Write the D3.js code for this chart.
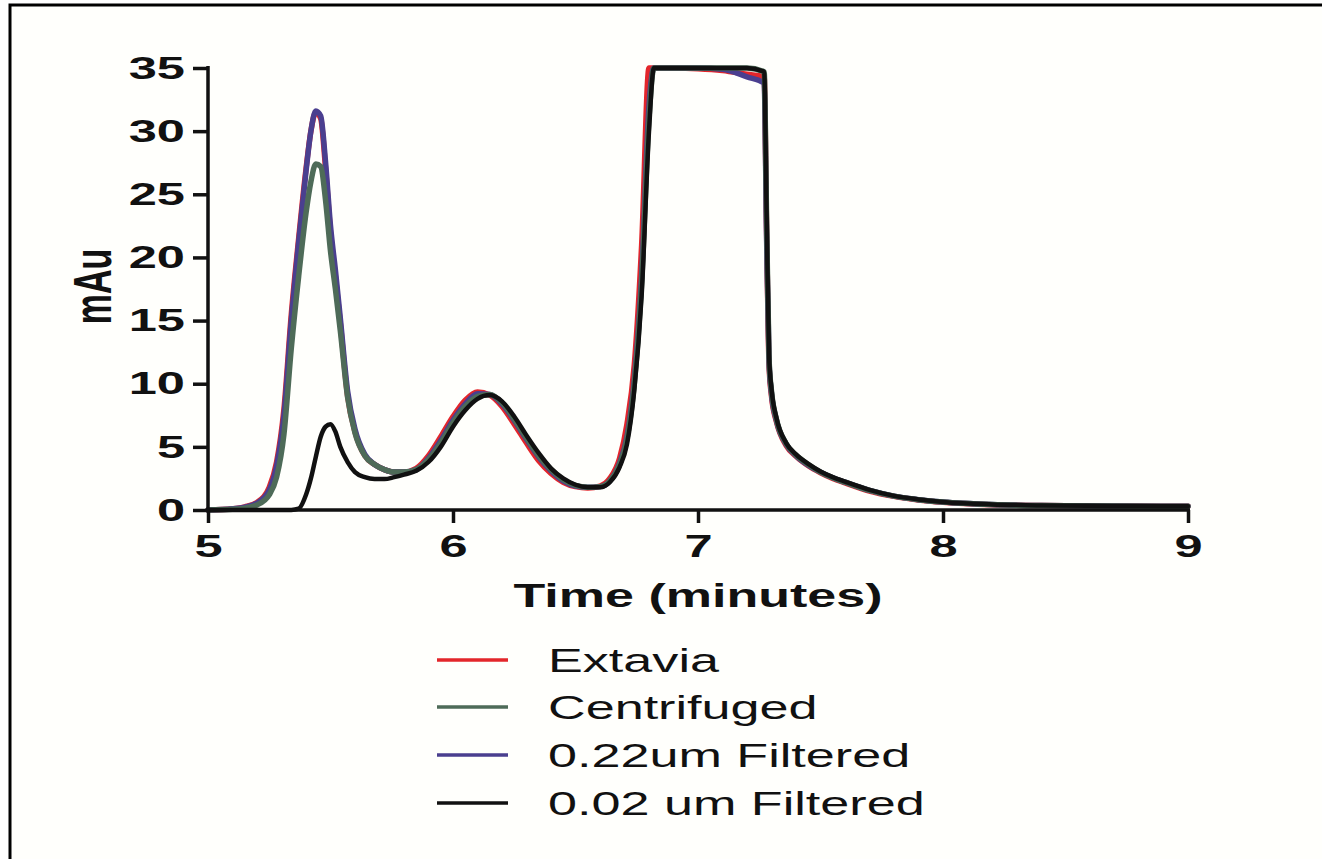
<!DOCTYPE html>
<html>
<head>
<meta charset="utf-8">
<script src="https://cdn.jsdelivr.net/npm/d3@7"></script>
<style>
  html, body { margin: 0; padding: 0; background: #ffffff; }
  svg { display: block; }
  text { font-family: "Liberation Sans", Arial, sans-serif; fill: #111; }
</style>
</head>
<body>
<svg id="chart" width="1322" height="859"></svg>
<script>
// Retention times (minutes)
const times = [
  5.00, 5.10, 5.15, 5.20, 5.25, 5.28, 5.31, 5.34, 5.37, 5.40,
  5.42, 5.44, 5.46, 5.48, 5.50, 5.52, 5.54, 5.57, 5.60, 5.64,
  5.68, 5.72, 5.76, 5.80, 5.85, 5.90, 5.95, 6.00, 6.05, 6.10,
  6.15, 6.20, 6.25, 6.30, 6.35, 6.40, 6.45, 6.50, 6.55, 6.60,
  6.64, 6.68, 6.71, 6.74, 6.77, 6.80, 6.82, 6.90, 7.00, 7.10,
  7.20, 7.27, 7.28, 7.29, 7.30, 7.32, 7.36, 7.40, 7.45, 7.50,
  7.55, 7.60, 7.70, 7.80, 7.90, 8.00, 8.20, 8.40, 8.60, 8.80,
  9.00
];

// Absorbance (mAu) per sample
const extavia = [
  0.0, 0.1, 0.25, 0.6, 1.8, 3.8, 8.0, 15.5, 21.5, 27.0,
  30.0, 31.5, 31.0, 27.0, 22.0, 18.5, 14.8, 9.0, 6.2, 4.3,
  3.6, 3.2, 3.0, 3.0, 3.3, 4.3, 5.8, 7.4, 8.7, 9.35,
  9.1, 8.2, 6.8, 5.3, 3.9, 2.9, 2.2, 1.85, 1.75, 1.9,
  2.5, 4.1, 6.8, 11.5, 21.0, 35.0, 35.0, 35.0, 34.95, 34.8,
  34.5, 34.3, 22.0, 11.5, 9.0, 7.0, 5.1, 4.25, 3.5, 2.95,
  2.5, 2.15, 1.5, 1.08, 0.8, 0.62, 0.42, 0.35, 0.32, 0.3,
  0.3
];

const centrifuged = [
  0.0, 0.05, 0.15, 0.4, 1.2, 2.6, 6.0, 12.8, 18.5, 23.5,
  26.0, 27.4, 27.2, 24.5, 20.5, 17.5, 14.2, 8.9, 6.1, 4.3,
  3.6, 3.2, 3.0, 3.0, 3.2, 4.0, 5.3, 6.9, 8.2, 9.0,
  9.15, 8.5, 7.2, 5.7, 4.3, 3.2, 2.4, 1.95, 1.8, 1.85,
  2.3, 3.6, 5.6, 10.0, 18.0, 31.0, 35.0, 35.0, 35.0, 35.0,
  35.0, 34.7, 23.0, 12.0, 9.4, 7.2, 5.25, 4.35, 3.6, 3.0,
  2.55, 2.2, 1.55, 1.1, 0.82, 0.63, 0.43, 0.35, 0.32, 0.3,
  0.3
];

const filtered022 = [
  0.0, 0.1, 0.22, 0.55, 1.6, 3.5, 7.5, 15.0, 21.2, 26.8,
  30.0, 31.6, 31.2, 27.5, 22.5, 19.0, 15.2, 9.4, 6.4, 4.4,
  3.6, 3.2, 3.0, 3.0, 3.2, 4.1, 5.5, 7.1, 8.4, 9.2,
  9.15, 8.4, 7.1, 5.6, 4.2, 3.1, 2.3, 1.9, 1.8, 1.85,
  2.3, 3.7, 5.8, 10.3, 18.5, 32.0, 35.0, 35.0, 35.0, 34.9,
  34.3, 33.8, 21.5, 11.8, 9.2, 7.1, 5.2, 4.3, 3.55, 3.0,
  2.55, 2.2, 1.55, 1.1, 0.82, 0.63, 0.43, 0.35, 0.32, 0.3,
  0.3
];

const filtered002 = [
  0.0, 0.0, 0.0, 0.0, 0.0, 0.0, 0.0, 0.0, 0.1, 1.2,
  2.5, 4.2, 5.8, 6.6, 6.8, 6.2, 5.0, 3.8, 3.0, 2.6,
  2.45, 2.45, 2.6, 2.8, 3.1, 3.8, 5.0, 6.6, 7.9, 8.8,
  9.1, 8.6, 7.4, 5.9, 4.5, 3.3, 2.5, 2.0, 1.8, 1.8,
  2.2, 3.4, 5.2, 9.5, 17.0, 30.0, 35.0, 35.0, 35.0, 35.0,
  35.0, 34.7, 23.5, 12.3, 9.6, 7.3, 5.3, 4.4, 3.65, 3.05,
  2.6, 2.25, 1.6, 1.12, 0.84, 0.64, 0.44, 0.36, 0.33, 0.31,
  0.3
];

const seriesNames = ["Extavia", "Centrifuged", "0.22um Filtered", "0.02 um Filtered"];
const seriesColors = ["#e3262b", "#4e6b58", "#4a3f8f", "#111111"];
const seriesValues = [extavia, centrifuged, filtered022, filtered002];

const xTicks = [5, 6, 7, 8, 9];
const yTicks = [0, 5, 10, 15, 20, 25, 30, 35];

// Text in this figure is set in a horizontally widened face
const WIDEN = 1.58;

const svg = d3.select("#chart");

// Page frame (top and left edges visible)
svg.append("rect")
  .attr("x", 10).attr("y", 5)
  .attr("width", 1330).attr("height", 870)
  .attr("fill", "#fffffc")
  .attr("stroke", "#000")
  .attr("stroke-width", 3);

const x = d3.scaleLinear().domain([5, 9]).range([208, 1188]);
const y = d3.scaleLinear().domain([0, 35]).range([510, 68]);

// Traces: draw order keeps black on top, green over purple over red
const drawOrder = [0, 2, 1, 3];
const line = d3.line()
  .x(d => x(d[0]))
  .y(d => y(d[1]))
  .curve(d3.curveMonotoneX);

const traces = svg.append("g").attr("class", "traces");
drawOrder.forEach(i => {
  const pts = times.map((t, k) => [t, seriesValues[i][k]]);
  traces.append("path")
    .datum(pts)
    .attr("d", line)
    .attr("fill", "none")
    .attr("stroke", seriesColors[i])
    .attr("stroke-width", i === 3 ? 4.5 : 5.5)
    .attr("stroke-linejoin", "round")
    .attr("stroke-linecap", "round");
});

// Axes
const xAxis = svg.append("g")
  .attr("transform", `translate(0,${y(0)})`)
  .call(d3.axisBottom(x).tickValues(xTicks).tickFormat(d3.format("d"))
    .tickSize(13).tickSizeOuter(0).tickPadding(11));

const yAxis = svg.append("g")
  .attr("transform", `translate(${x(5)},0)`)
  .call(d3.axisLeft(y).tickValues(yTicks).tickFormat(d3.format("d"))
    .tickSize(15).tickSizeOuter(0).tickPadding(8));

[xAxis, yAxis].forEach(g => {
  g.select(".domain").attr("stroke", "#111").attr("stroke-width", 3.5);
  g.selectAll(".tick line").attr("stroke", "#111").attr("stroke-width", 3.5);
  g.selectAll(".tick text")
    .attr("fill", "#111")
    .style("font-family", '"Liberation Sans", Arial, sans-serif')
    .style("font-size", "32px")
    .style("font-weight", "bold");
});
xAxis.select(".domain").attr("d", `M${x(5)},0H${x(9) + 2}`);
yAxis.select(".domain").attr("d", `M0,${y(0) + 2}V${y(35) - 2}`);

// widen tick labels about their anchor points
xAxis.selectAll(".tick text").attr("transform", `scale(${WIDEN},1)`);
yAxis.selectAll(".tick text").each(function () {
  const t = d3.select(this);
  const px = +t.attr("x");
  t.attr("x", 0).attr("transform", `translate(${px},0) scale(${WIDEN},1)`);
});

// Axis titles
svg.append("text")
  .attr("transform", `translate(${x(7)},607) scale(1.53,1)`)
  .attr("text-anchor", "middle")
  .style("font-size", "34px").style("font-weight", "bold")
  .text("Time (minutes)");

svg.append("text")
  .attr("transform", `translate(111,${y(17.7)}) scale(${WIDEN},1) rotate(-90)`)
  .attr("text-anchor", "middle")
  .style("font-size", "34px").style("font-weight", "bold")
  .text("mAu");

// Legend
const legendY = [660, 707, 755, 803];
const legend = svg.append("g");
seriesNames.forEach((name, i) => {
  legend.append("line")
    .attr("x1", 437).attr("x2", 508)
    .attr("y1", legendY[i]).attr("y2", legendY[i])
    .attr("stroke", seriesColors[i])
    .attr("stroke-width", 3.5);
  legend.append("text")
    .attr("transform", `translate(548,${legendY[i]}) scale(${WIDEN},1)`)
    .attr("dy", "0.36em")
    .style("font-size", "33px")
    .text(name);
});
</script>
</body>
</html>
